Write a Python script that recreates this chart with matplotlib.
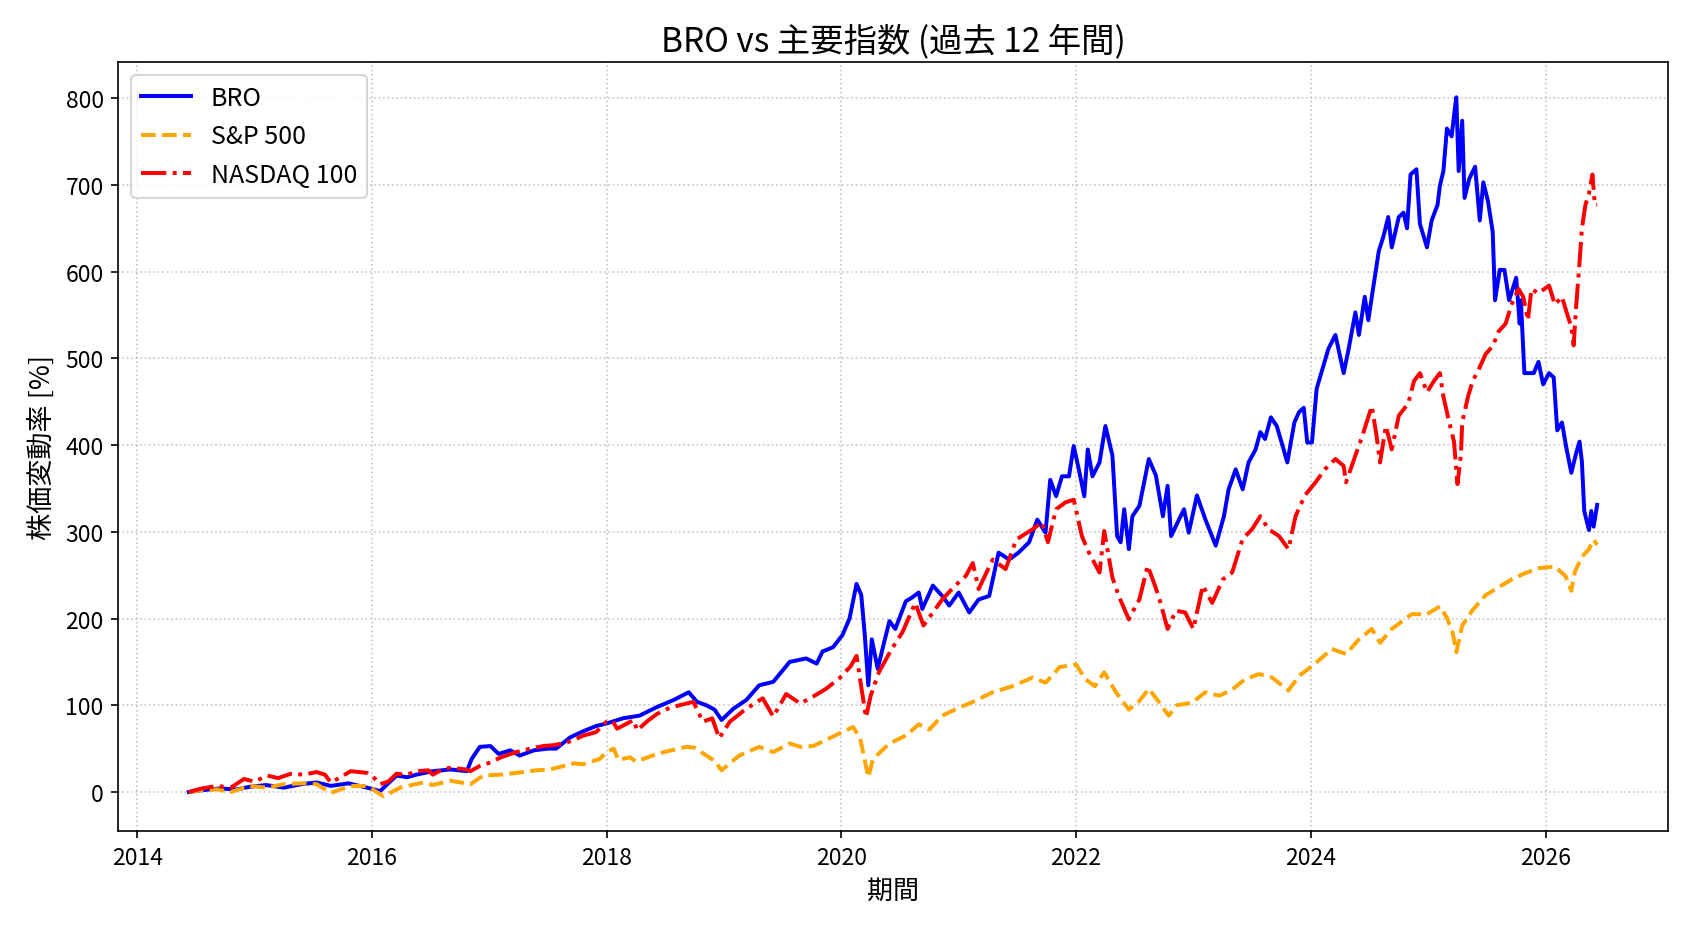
import matplotlib
matplotlib.use("Agg")
import matplotlib.pyplot as plt
from matplotlib.ticker import MultipleLocator, FormatStrFormatter

plt.rcParams['font.family'] = ['Noto Sans CJK JP', 'DejaVu Sans']

title = "BRO vs 主要指数 (過去 12 年間)"
xlabel = "期間"
ylabel = "株価変動率 [%]"
series_names = ["BRO", "S&P 500", "NASDAQ 100"]

# time in decimal years, values in %
bro_t = [2014.44, 2014.55, 2014.70, 2014.85, 2014.96, 2015.10, 2015.25, 2015.40, 2015.53, 2015.65,
         2015.80, 2015.96, 2016.07, 2016.14, 2016.21, 2016.30, 2016.38, 2016.52, 2016.67, 2016.81,
         2016.85, 2016.92, 2017.01, 2017.08, 2017.18, 2017.26, 2017.38, 2017.50, 2017.57, 2017.69,
         2017.80, 2017.91, 2018.00, 2018.14, 2018.28, 2018.43, 2018.57, 2018.70, 2018.77, 2018.85,
         2018.92, 2018.98, 2019.08, 2019.19, 2019.30, 2019.42, 2019.56, 2019.70, 2019.79, 2019.84,
         2019.93, 2020.01, 2020.07, 2020.13, 2020.17, 2020.20, 2020.23, 2020.26, 2020.31, 2020.36,
         2020.41, 2020.46, 2020.55, 2020.60, 2020.66, 2020.69, 2020.78, 2020.86, 2020.92, 2021.00,
         2021.09, 2021.17, 2021.26, 2021.34, 2021.43, 2021.51, 2021.60, 2021.67, 2021.74, 2021.78,
         2021.83, 2021.88, 2021.94, 2021.98, 2022.03, 2022.07, 2022.10, 2022.14, 2022.20, 2022.25,
         2022.31, 2022.35, 2022.38, 2022.41, 2022.45, 2022.48, 2022.54, 2022.62, 2022.68, 2022.74,
         2022.78, 2022.81, 2022.88, 2022.92, 2022.96, 2023.03, 2023.10, 2023.19, 2023.26, 2023.30,
         2023.36, 2023.42, 2023.47, 2023.53, 2023.57, 2023.61, 2023.66, 2023.71, 2023.76, 2023.80,
         2023.86, 2023.90, 2023.94, 2023.97, 2024.01, 2024.05, 2024.10, 2024.15, 2024.21, 2024.28,
         2024.32, 2024.38, 2024.41, 2024.46, 2024.49, 2024.53, 2024.58, 2024.62, 2024.66, 2024.69,
         2024.75, 2024.79, 2024.82, 2024.85, 2024.90, 2024.93, 2024.99, 2025.03, 2025.08, 2025.10,
         2025.13, 2025.16, 2025.20, 2025.23, 2025.24, 2025.26, 2025.29, 2025.31, 2025.35, 2025.40,
         2025.44, 2025.47, 2025.51, 2025.55, 2025.57, 2025.61, 2025.65, 2025.69, 2025.75, 2025.78,
         2025.79, 2025.82, 2025.85, 2025.90, 2025.94, 2025.98, 2026.03, 2026.07, 2026.10, 2026.14,
         2026.18, 2026.22, 2026.26, 2026.29, 2026.31, 2026.33, 2026.37, 2026.39, 2026.41, 2026.44]
bro_v = [0, 2, 4, 3, 6, 8, 5, 9, 11, 7,
         10, 5, 1, 10, 19, 17, 20, 24, 26, 24,
         38, 52, 53, 44, 48, 42, 48, 50, 50, 63,
         70, 76, 79, 85, 88, 98, 106, 115, 104, 100,
         95, 83, 96, 106, 123, 127, 150, 154, 148, 162,
         167, 181, 200, 240, 227, 181, 123, 176, 142, 170,
         197, 188, 220, 224, 230, 211, 238, 226, 215, 230,
         207, 222, 226, 276, 268, 276, 288, 314, 299, 360,
         341, 364, 364, 399, 368, 341, 395, 364, 380, 422,
         388, 295, 288, 326, 280, 318, 330, 384, 365, 318,
         353, 295, 315, 326, 299, 342, 315, 284, 318, 349,
         372, 349, 380, 395, 415, 407, 432, 422, 399, 380,
         426, 438, 443, 403, 403, 465, 488, 511, 527, 483,
         509, 553, 527, 571, 544, 580, 624, 641, 663, 628,
         663, 668, 650, 712, 718, 655, 628, 659, 677, 699,
         716, 765, 756, 791, 801, 716, 774, 685, 707, 721,
         659, 703, 681, 646, 567, 602, 602, 567, 593, 540,
         567, 483, 483, 483, 496, 470, 483, 478, 417, 426,
         395, 368, 390, 404, 381, 324, 302, 324, 306, 331]

sp_t = [2014.44, 2014.55, 2014.68, 2014.80, 2014.96, 2015.10, 2015.25, 2015.40, 2015.53, 2015.65,
        2015.82, 2015.96, 2016.10, 2016.24, 2016.44, 2016.52, 2016.67, 2016.84, 2016.95, 2017.10,
        2017.23, 2017.40, 2017.52, 2017.72, 2017.80, 2017.94, 2018.00, 2018.06, 2018.10, 2018.20,
        2018.25, 2018.43, 2018.55, 2018.68, 2018.75, 2018.85, 2018.92, 2018.98, 2019.13, 2019.30,
        2019.42, 2019.56, 2019.65, 2019.76, 2019.90, 2020.10, 2020.16, 2020.23, 2020.27, 2020.41,
        2020.55, 2020.66, 2020.75, 2020.86, 2021.00, 2021.14, 2021.29, 2021.46, 2021.63, 2021.74,
        2021.86, 2022.00, 2022.08, 2022.16, 2022.24, 2022.34, 2022.45, 2022.54, 2022.62, 2022.71,
        2022.79, 2022.86, 2022.99, 2023.10, 2023.22, 2023.33, 2023.44, 2023.56, 2023.67, 2023.81,
        2023.90, 2024.01, 2024.18, 2024.30, 2024.41, 2024.52, 2024.59, 2024.69, 2024.86, 2024.99,
        2025.10, 2025.16, 2025.21, 2025.24, 2025.29, 2025.38, 2025.49, 2025.60, 2025.71, 2025.82,
        2025.94, 2026.08, 2026.17, 2026.22, 2026.25, 2026.31, 2026.37, 2026.41, 2026.44]
sp_v = [0, 2, 3, 0, 7, 5, 9, 10, 9, -1,
        7, 7, -5, 5, 11, 8, 13, 9, 19, 20,
        22, 25, 26, 33, 32, 38, 46, 50, 37, 40,
        35, 44, 48, 52, 51, 42, 36, 25, 42, 52,
        46, 56, 52, 53, 62, 75, 62, 17, 38, 56,
        65, 78, 72, 88, 97, 105, 115, 122, 132, 126,
        144, 147, 130, 122, 138, 115, 95, 105, 119, 103,
        88, 100, 103, 115, 111, 118, 130, 136, 132, 117,
        134, 145, 165, 159, 176, 188, 172, 188, 205, 205,
        214, 201, 183, 161, 192, 210, 227, 236, 245, 252,
        258, 260, 249, 232, 254, 271, 280, 291, 285]

nq_t = [2014.44, 2014.55, 2014.68, 2014.80, 2014.91, 2015.00, 2015.11, 2015.20, 2015.31, 2015.42,
        2015.53, 2015.60, 2015.65, 2015.72, 2015.82, 2015.96, 2016.03, 2016.07, 2016.14, 2016.21,
        2016.30, 2016.38, 2016.48, 2016.52, 2016.60, 2016.67, 2016.80, 2016.84, 2016.92, 2017.01,
        2017.10, 2017.23, 2017.35, 2017.46, 2017.55, 2017.66, 2017.72, 2017.80, 2017.91, 2018.00,
        2018.05, 2018.09, 2018.16, 2018.23, 2018.26, 2018.35, 2018.43, 2018.52, 2018.62, 2018.74,
        2018.82, 2018.90, 2018.96, 2019.05, 2019.19, 2019.33, 2019.42, 2019.53, 2019.65, 2019.76,
        2019.87, 2019.99, 2020.08, 2020.13, 2020.16, 2020.21, 2020.25, 2020.32, 2020.43, 2020.52,
        2020.63, 2020.70, 2020.78, 2020.86, 2020.97, 2021.06, 2021.12, 2021.17, 2021.29, 2021.40,
        2021.49, 2021.63, 2021.71, 2021.76, 2021.83, 2021.91, 2021.98, 2022.05, 2022.11, 2022.20,
        2022.24, 2022.31, 2022.37, 2022.45, 2022.51, 2022.54, 2022.61, 2022.68, 2022.72, 2022.78,
        2022.85, 2022.93, 2023.00, 2023.08, 2023.16, 2023.25, 2023.33, 2023.42, 2023.50, 2023.57,
        2023.64, 2023.73, 2023.81, 2023.87, 2023.95, 2024.04, 2024.12, 2024.21, 2024.28, 2024.30,
        2024.38, 2024.44, 2024.52, 2024.56, 2024.59, 2024.64, 2024.69, 2024.75, 2024.83, 2024.88,
        2024.93, 2024.99, 2025.05, 2025.10, 2025.13, 2025.18, 2025.22, 2025.25, 2025.28, 2025.29,
        2025.34, 2025.38, 2025.43, 2025.49, 2025.55, 2025.60, 2025.66, 2025.71, 2025.77, 2025.81,
        2025.85, 2025.88, 2025.94, 2026.03, 2026.08, 2026.14, 2026.18, 2026.22, 2026.24, 2026.26,
        2026.29, 2026.31, 2026.34, 2026.37, 2026.40, 2026.42, 2026.44]
nq_v = [0, 4, 7, 5, 15, 12, 19, 16, 21, 20,
        23, 20, 11, 16, 24, 22, 15, 9, 12, 21,
        20, 24, 25, 20, 26, 28, 26, 24, 30, 34,
        40, 46, 50, 53, 54, 57, 60, 65, 69, 81,
        82, 73, 78, 83, 71, 82, 90, 96, 100, 104,
        81, 85, 62, 81, 96, 108, 87, 113, 102, 110,
        119, 132, 145, 157, 130, 86, 111, 138, 165, 184,
        218, 192, 207, 222, 238, 249, 264, 234, 268, 257,
        291, 303, 311, 288, 326, 334, 337, 295, 276, 253,
        301, 247, 224, 199, 215, 222, 261, 235, 218, 188,
        209, 207, 188, 238, 218, 245, 253, 292, 303, 318,
        303, 295, 280, 318, 342, 357, 372, 384, 376, 357,
        388, 411, 445, 411, 380, 422, 395, 434, 448, 474,
        483, 461, 474, 483, 456, 426, 404, 355, 390, 426,
        456, 474, 487, 505, 514, 531, 540, 562, 580, 571,
        544, 580, 575, 584, 562, 571, 553, 536, 515, 558,
        611, 650, 677, 690, 712, 677, 677]

fig = plt.figure(figsize=(1688 / 150, 932 / 150), dpi=150)
ax = fig.add_subplot(111)
fig.subplots_adjust(left=0.0701, right=0.9879, top=0.932, bottom=0.107)

ax.plot(bro_t, bro_v, color="blue", linestyle="-", linewidth=1.9, label=series_names[0])
ax.plot(sp_t, sp_v, color="orange", linestyle="--", linewidth=1.9, label=series_names[1])
ax.plot(nq_t, nq_v, color="red", linestyle="-.", linewidth=1.9, label=series_names[2])

ax.xaxis.set_major_locator(MultipleLocator(2))
ax.xaxis.set_major_formatter(FormatStrFormatter("%d"))
ax.yaxis.set_major_locator(MultipleLocator(100))
ax.tick_params(labelsize=11)

ax.set_title(title, fontsize=16)
ax.set_xlabel(xlabel, fontsize=12.5)
ax.set_ylabel(ylabel, fontsize=13)
ax.grid(True, linestyle=":", alpha=0.7)
ax.legend(loc="upper left", fontsize=12)

fig.savefig("out.png", dpi=150)
